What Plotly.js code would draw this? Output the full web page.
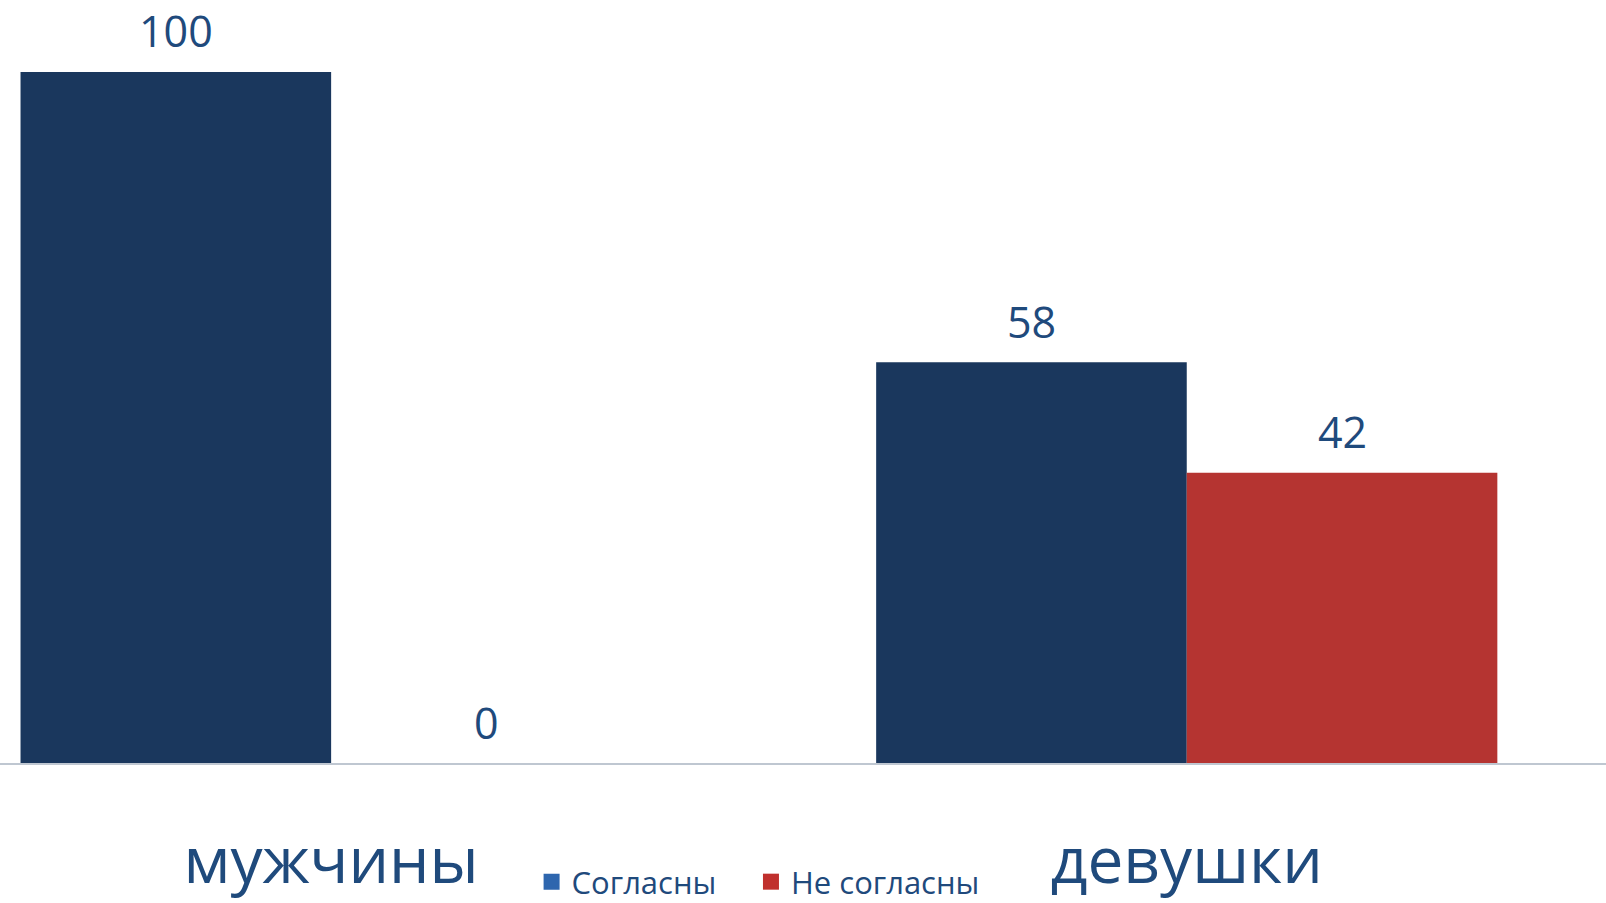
<!DOCTYPE html>
<html>
<head>
<meta charset="utf-8">
<script src="https://cdn.plot.ly/plotly-3.0.1.min.js"></script>
<style>
  html, body { margin: 0; padding: 0; background: #ffffff; }
  #chart { width: 1606px; height: 903px; }
</style>
</head>
<body>
<div id="chart"></div>
<script>
// categories and series
const categories = ['мужчины', 'девушки'];
const agreeName = 'Согласны';
const agreeValues = [100, 58];
const disagreeName = 'Не согласны';
const disagreeValues = [0, 42];

const seriesColors = ['#1a375d', '#b53431'];
// the legend swatches in the picture are lighter than the bars
const legendColors = ['#2e66ae', '#c0302d'];
const textColor = '#1f4a7c';
const fontFamily = '"Open Sans", "Noto Sans", sans-serif';
const bargap = 0.274;

const series = [
    { name: agreeName, y: agreeValues, legend: 'legend' },
    { name: disagreeName, y: disagreeValues, legend: 'legend2' }
];

const barTraces = series.map((s, i) => ({
    type: 'bar',
    name: s.name,
    x: categories,
    y: s.y,
    marker: { color: seriesColors[i] },
    showlegend: false,
    hoverinfo: 'skip'
}));

// empty scatter traces only carry the bigger square legend swatches,
// each in its own legend so the spacing between them can be set
const legendTraces = series.map((s, i) => ({
    type: 'scatter',
    mode: 'markers',
    name: s.name,
    legend: s.legend,
    x: [null],
    y: [null],
    marker: { symbol: 'square', size: 16, color: legendColors[i] },
    hoverinfo: 'skip'
}));

// value labels sit above each bar, placed in data coordinates
const barWidth = (1 - bargap) / series.length;
const annotations = [];
series.forEach((s, i) => {
    s.y.forEach((v, j) => {
        annotations.push({
            x: j + (i - (series.length - 1) / 2) * barWidth,
            y: v,
            xref: 'x',
            yref: 'y',
            text: String(v),
            showarrow: false,
            yanchor: 'middle',
            yshift: 41,
            font: { family: fontFamily, size: 43, color: textColor }
        });
    });
});

function legendBox(x) {
    return {
        orientation: 'h',
        x: x,
        xanchor: 'left',
        y: -0.156,
        yanchor: 'middle',
        font: { family: fontFamily, size: 31, color: textColor },
        itemwidth: 30,
        bgcolor: 'rgba(0,0,0,0)'
    };
}

const layout = {
    width: 1606,
    height: 903,
    margin: { l: 0, r: 0, t: 0, b: 140, pad: 0, autoexpand: false },
    paper_bgcolor: '#ffffff',
    plot_bgcolor: '#ffffff',
    barmode: 'group',
    bargap: bargap,
    bargroupgap: 0,
    font: { family: fontFamily, color: textColor },
    xaxis: {
        type: 'category',
        range: [-0.387, 1.490],
        showgrid: false,
        zeroline: false,
        showline: true,
        linecolor: '#bfc7d1',
        linewidth: 2,
        ticks: '',
        ticklabelstandoff: 41,
        tickfont: { family: fontFamily, size: 64, color: textColor },
        automargin: false,
        fixedrange: true
    },
    yaxis: {
        range: [0, 110.4],
        visible: false,
        showgrid: false,
        zeroline: false,
        fixedrange: true
    },
    showlegend: true,
    legend: legendBox(0.331),
    legend2: legendBox(0.4676),
    annotations: annotations
};

Plotly.newPlot('chart', barTraces.concat(legendTraces), layout, { displayModeBar: false, staticPlot: true });
</script>
</body>
</html>
